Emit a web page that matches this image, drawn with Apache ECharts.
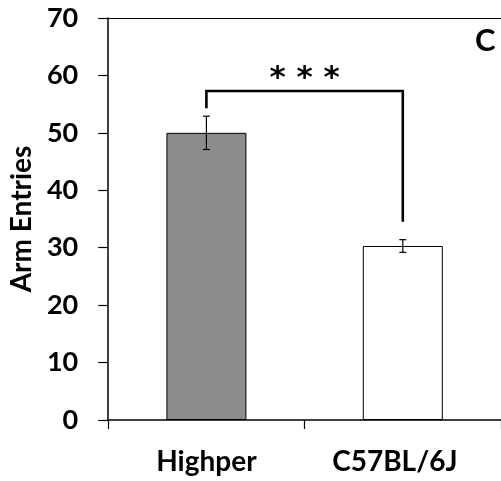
<!DOCTYPE html>
<html>
<head>
<meta charset="utf-8">
<script src="https://cdn.jsdelivr.net/npm/echarts@6/dist/echarts.min.js"></script>
<style>
  html, body { margin: 0; padding: 0; background: #fff; }
  #chart { width: 501px; height: 481px; }
</style>
</head>
<body>
<div id="chart"></div>
<script>
// Arm entries per strain, mean ± SEM
const categories = ['Highper', 'C57BL/6J'];
const means = [50.0, 30.3];
const errors = [2.9, 1.1];
const barColors = ['#8c8c8c', '#ffffff'];

// Significance bracket: [category index, value] corner points
const bracketPoints = [[0, 54.3], [0, 57.3], [1, 57.3], [1, 34.5]];
const bracketLabel = '* * *';
const bracketLabelValue = 59.4;

const yTicks = { min: 0, max: 70, interval: 10 };
const panelLetter = 'C';

const FONT = 'Lato';

const chart = echarts.init(document.getElementById('chart'), null, { renderer: 'canvas' });

chart.setOption({
  animation: false,
  backgroundColor: '#ffffff',
  grid: { left: 106, top: 18, width: 398, height: 402, containLabel: false },
  xAxis: {
    type: 'category',
    data: categories,
    boundaryGap: true,
    axisLine: { lineStyle: { color: '#000', width: 1.5 } },
    axisTick: { show: true, length: 9, lineStyle: { color: '#000', width: 1.2 } },
    axisLabel: {
      interval: 0,
      hideOverlap: false,
      color: '#000',
      fontFamily: FONT,
      fontWeight: 'bold',
      fontSize: 28,
      margin: 28,
      formatter: (v, i) => i === 1 ? '{shift|' + v + '}' : v,
      rich: { shift: { color: '#000', fontFamily: FONT, fontWeight: 'bold', fontSize: 28, padding: [0, 16, 0, 0] } }
    }
  },
  yAxis: {
    type: 'value',
    min: yTicks.min,
    max: yTicks.max,
    interval: yTicks.interval,
    name: 'Arm Entries',
    nameLocation: 'middle',
    nameGap: 72,
    nameTextStyle: { color: '#000', fontFamily: FONT, fontWeight: 'bold', fontSize: 28 },
    axisLine: { show: true, lineStyle: { color: '#000', width: 1.5 } },
    axisTick: { show: true, length: 10, lineStyle: { color: '#000', width: 1.2 } },
    splitLine: { show: false },
    axisLabel: {
      color: '#000',
      fontFamily: FONT,
      fontWeight: 'bold',
      fontSize: 27,
      margin: 30
    }
  },
  series: [
    {
      type: 'bar',
      barWidth: 80,
      data: means.map((v, i) => ({
        value: v,
        itemStyle: { color: barColors[i], borderColor: '#000', borderWidth: 1 }
      })),
      markLine: {
        silent: true,
        symbol: 'none',
        label: { show: false },
        lineStyle: { color: '#000', width: 1.2, type: 'solid' },
        data: [{ yAxis: yTicks.max }]
      },
      z: 2
    },
    {
      // error bars
      type: 'custom',
      data: means.map((m, i) => [i, m - errors[i], m + errors[i]]),
      renderItem: function (params, api) {
        const x = api.value(0);
        const lo = api.coord([x, api.value(1)]);
        const hi = api.coord([x, api.value(2)]);
        const half = 3.5;
        const style = { stroke: '#000', lineWidth: 1.2 };
        return {
          type: 'group',
          children: [
            { type: 'line', shape: { x1: lo[0], y1: lo[1], x2: hi[0], y2: hi[1] }, style },
            { type: 'line', shape: { x1: hi[0] - half, y1: hi[1], x2: hi[0] + half, y2: hi[1] }, style },
            { type: 'line', shape: { x1: lo[0] - half, y1: lo[1], x2: lo[0] + half, y2: lo[1] }, style }
          ]
        };
      },
      z: 3
    },
    {
      // significance bracket
      type: 'line',
      data: bracketPoints,
      symbol: 'none',
      lineStyle: { color: '#000', width: 2.6, join: 'miter' },
      z: 4
    },
    {
      // significance stars above the bracket
      type: 'custom',
      data: [[0.5, bracketLabelValue]],
      renderItem: function (params, api) {
        const p0 = api.coord([0, api.value(1)]);
        const p1 = api.coord([1, api.value(1)]);
        return {
          type: 'text',
          style: {
            x: (p0[0] + p1[0]) / 2,
            y: p0[1],
            text: bracketLabel,
            fill: '#000',
            font: 'bold 31px "DejaVu Sans"',
            align: 'center',
            verticalAlign: 'middle'
          }
        };
      },
      z: 5
    }
  ],
  graphic: [
    {
      type: 'text',
      left: 475,
      top: 25,
      style: { text: panelLetter, fill: '#000', font: 'bold 31px Lato' }
    }
  ]
});
</script>
</body>
</html>
